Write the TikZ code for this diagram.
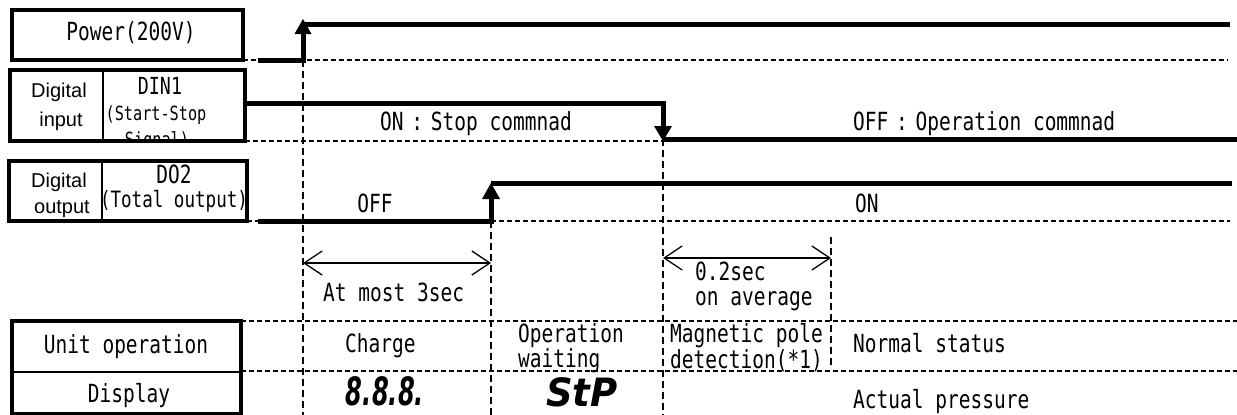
\documentclass[tikz,border=0pt]{standalone}
\usepackage{fontspec}
\newfontfamily\gothic[FakeStretch=0.78]{DejaVu Sans Mono}
\newfontfamily\psans{Liberation Sans}
\newfontfamily\segA[FakeStretch=0.62]{DejaVu Sans}
\newfontfamily\segB[FakeStretch=0.95]{DejaVu Sans}
\usetikzlibrary{arrows.meta}
\begin{document}
\begin{tikzpicture}[x=1pt,y=-1pt,
  box/.style={draw=black,line width=3.5pt},
  wave/.style={line width=5pt},
  tri/.style={fill=black},
  hdash/.style={line width=1.1pt,dash pattern=on 5pt off 3pt},
  vdash/.style={line width=1.4pt,dash pattern=on 7pt off 4pt},
  dim/.style={line width=1.3pt,{Straight Barb[length=18pt,width=24pt,line width=1.3pt]}-{Straight Barb[length=18pt,width=24pt,line width=1.3pt]}},
  lbl/.style={inner sep=0pt,font=\gothic\fontsize{25}{28}\selectfont},
  sm/.style={inner sep=0pt,font=\psans\fontsize{20}{22}\selectfont},
  seg/.style={inner sep=0pt,font=\segA\bfseries\itshape\fontsize{39}{40}\selectfont},
  segb/.style={inner sep=0pt,font=\segB\bfseries\itshape\fontsize{39}{40}\selectfont}]
\useasboundingbox (0,0) rectangle (1237,415);

% dashed guide lines
\draw[hdash] (243,60) -- (1228,60);
\draw[hdash] (245,141) -- (663,141);
\draw[hdash] (247,221) -- (258,221);
\draw[hdash] (491,221) -- (1230,221);
\draw[hdash] (241,321) -- (1237,321);
\draw[hdash] (241,371) -- (1237,371);
\draw[vdash] (303,60) -- (303,415);
\draw[vdash] (491,221) -- (491,415);
\draw[vdash] (663,139) -- (663,415);
\draw[vdash] (831,237) -- (831,369);

% Power row
\node[lbl,anchor=base,font=\gothic\fontsize{25}{28}\selectfont] (pw) at (131,40) {Power(200V)};
\draw[box] (12,10) rectangle (243,60);
\draw[wave] (258,60) -- (303,60) -- (303,32);
\draw[wave] (303,24) -- (1230,24);
\fill[tri] (294.5,34) -- (303,19) -- (311.5,34) -- cycle;

% DIN1 row
\node[sm,anchor=base] (di1) at (59,97) {Digital};
\node[sm,anchor=base] (di2) at (61,126) {input};
\node[lbl,anchor=base,font=\gothic\fontsize{23.5}{26}\selectfont] (din) at (160,94) {DIN1};
\begin{scope}
\clip (103,70) rectangle (245,141);
\node[lbl,anchor=base,font=\gothic\fontsize{19.5}{22}\selectfont] (ss1) at (156,120) {(Start-Stop};
\node[lbl,anchor=base,font=\gothic\fontsize{19.5}{22}\selectfont] (ss2) at (157,146) {Signal)};
\end{scope}
\draw[box] (10,70) rectangle (245,141);
\draw[line width=1.5pt] (103,70) -- (103,141);
\draw[wave] (245,103) -- (663,103) -- (663,127);
\draw[wave] (663,139) -- (1237,139);
\fill[tri] (654,126) -- (663,141) -- (672,126) -- cycle;
\node[lbl,anchor=base] (on1) at (476,130) {ON\hspace{-4pt} : \hspace{-4pt}Stop commnad};
\node[lbl,anchor=base west] (off1) at (853,130) {OFF\hspace{-4pt} : \hspace{-4pt}Operation commnad};

% DO2 row
\node[sm,anchor=base] (do1) at (59,187) {Digital};
\node[sm,anchor=base] (do2) at (62,213) {output};
\node[lbl,anchor=base,font=\gothic\fontsize{25}{28}\selectfont] (dout) at (174,183) {DO2};
\node[lbl,anchor=base,font=\gothic\fontsize{22.5}{26}\selectfont] (tot) at (174,207) {(Total output)};
\draw[box] (9,161) rectangle (247,221);
\draw[line width=1.5pt] (102,161) -- (102,221);
\draw[wave] (258,221) -- (491,221) -- (491,198);
\draw[wave] (491,183) -- (1232,183);
\fill[tri] (482,199) -- (491,183) -- (500,199) -- cycle;
\node[lbl,anchor=base] (off2) at (375,212) {OFF};
\node[lbl,anchor=base west] (on2) at (855,212) {ON};

% timing dimensions
\coordinate (a1) at (303,263);
\coordinate (a2) at (491,263);
\coordinate (b1) at (663,258);
\coordinate (b2) at (831,258);
\draw[dim] (a1) -- (a2);
\draw[dim] (b1) -- (b2);
\node[lbl,anchor=base west] (t3) at (323,301) {At most 3sec};
\node[lbl,anchor=base west] (t02) at (695,280) {0.2sec};
\node[lbl,anchor=base west] (tav) at (695,305) {on average};

% Unit operation / Display
\draw[box] (12,321) rectangle (241,413.5);
\draw[line width=2pt] (12,372) -- (241,372);
\node[lbl,anchor=base] (uo) at (126,353) {Unit operation};
\node[lbl,anchor=base] (dsp) at (129,402) {Display};
\node[lbl,anchor=base west] (chg) at (345,352) {Charge};
\node[lbl,anchor=base west] (ow1) at (518,342) {Operation};
\node[lbl,anchor=base west] (ow2) at (518,367) {waiting};
\node[lbl,anchor=base west] (mp1) at (670,342) {Magnetic pole};
\node[lbl,anchor=base west] (mp2) at (670,368) {detection(*1)};
\node[lbl,anchor=base west] (ns) at (853,352) {Normal status};
\node[lbl,anchor=base west] (ap) at (853,408) {Actual pressure};
\node[seg,anchor=base] (s888) at (385,405) {8.8.8.};
\node[segb,anchor=base] (stp) at (582,406) {StP};
\end{tikzpicture}
\end{document}
